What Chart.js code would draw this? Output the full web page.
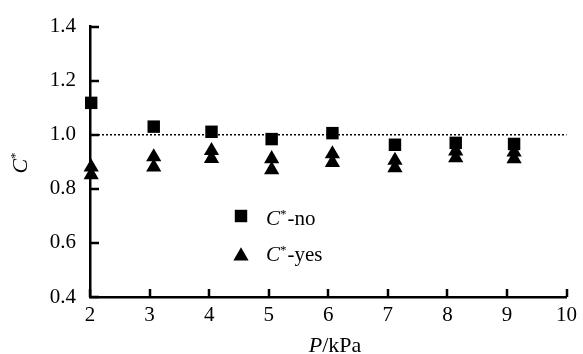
<!DOCTYPE html>
<html>
<head>
<meta charset="utf-8">
<script src="https://cdn.jsdelivr.net/npm/chart.js@4/dist/chart.umd.min.js"></script>
<style>
  html, body { margin: 0; padding: 0; background: #fff; }
  #wrap { width: 583px; height: 354px; }
</style>
</head>
<body>
<div id="wrap"><canvas id="chart" width="583" height="354"></canvas></div>
<script>
// P (kPa) where each pair of measurements sits
const pressure = [2.02, 3.07, 4.04, 5.05, 6.07, 7.12, 8.14, 9.12];
// C* without correction (squares)
const cNo = [1.118, 1.030, 1.011, 0.984, 1.006, 0.963, 0.970, 0.966];
// C* with correction (triangles), two repeats per pressure
const cYesA = [0.880, 0.918, 0.941, 0.911, 0.929, 0.905, 0.940, 0.936];
const cYesB = [0.852, 0.880, 0.912, 0.870, 0.897, 0.878, 0.915, 0.911];
// reference line C* = 1
const refX = [2, 10];
const refY = [1.0, 1.0];

const xTicks = [2, 3, 4, 5, 6, 7, 8, 9, 10];
const yTicks = [0.4, 0.6, 0.8, 1.0, 1.2, 1.4];

const FONT = '"Liberation Serif", "Times New Roman", serif';
const MARK = 8.8;

const toPts = (xs, ys) => xs.map((x, i) => ({ x: x, y: ys[i] }));
const yesPts = toPts(pressure, cYesA).concat(toPts(pressure, cYesB));

// mixed italic / superscript text
function richText(ctx, parts, x, y, align, size) {
  const fontOf = p => (p.italic ? 'italic ' : '') + (p.sup ? Math.round(size * 0.6) : size) + 'px ' + FONT;
  let w = 0;
  parts.forEach(p => { ctx.font = fontOf(p); w += ctx.measureText(p.t).width; });
  let cx = align === 'center' ? x - w / 2 : x;
  ctx.textAlign = 'left';
  ctx.textBaseline = 'alphabetic';
  parts.forEach(p => {
    ctx.font = fontOf(p);
    ctx.fillText(p.t, cx, p.sup ? y - size * 0.35 : y);
    cx += ctx.measureText(p.t).width + (p.sup ? 1 : 0);
  });
}

const decor = {
  id: 'decor',
  afterDraw(chart) {
    const ctx = chart.ctx, xs = chart.scales.x, ys = chart.scales.y;
    const a = chart.chartArea;
    ctx.save();
    ctx.strokeStyle = '#000';
    ctx.fillStyle = '#000';
    ctx.lineWidth = 2.5;
    // inward tick marks
    ctx.beginPath();
    yTicks.forEach(v => {
      const py = Math.round(ys.getPixelForValue(v));
      ctx.moveTo(a.left, py); ctx.lineTo(a.left + 9, py);
    });
    xTicks.forEach(v => {
      const px = Math.round(xs.getPixelForValue(v));
      ctx.moveTo(px, a.bottom); ctx.lineTo(px, a.bottom - 8);
    });
    ctx.stroke();

    // axis titles
    richText(ctx, [{ t: 'P', italic: true }, { t: '/kPa' }], 335, 352, 'center', 22);
    ctx.save();
    ctx.translate(20, 163);
    ctx.rotate(-Math.PI / 2);
    richText(ctx, [{ t: 'C', italic: true }, { t: '*', sup: true }], 0, 7, 'center', 22);
    ctx.restore();

    // legend
    const h = Chart.helpers;
    h.drawPoint(ctx, { pointStyle: 'rect', radius: MARK, borderWidth: 0 }, 241, 216);
    h.drawPoint(ctx, { pointStyle: 'triangle', radius: MARK, borderWidth: 0 }, 241, 256);
    ctx.fillStyle = '#000';
    richText(ctx, [{ t: 'C', italic: true }, { t: '*', sup: true }, { t: '-no' }], 266, 225, 'left', 21);
    richText(ctx, [{ t: 'C', italic: true }, { t: '*', sup: true }, { t: '-yes' }], 266, 261, 'left', 21);
    ctx.restore();
  }
};

new Chart(document.getElementById('chart'), {
  type: 'scatter',
  data: {
    datasets: [
      {
        type: 'line',
        label: 'ref',
        data: toPts(refX, refY),
        borderColor: '#000',
        borderWidth: 1.6,
        borderDash: [2, 2],
        pointRadius: 0,
        fill: false,
        clip: false
      },
      {
        label: 'C*-no',
        data: toPts(pressure, cNo),
        pointStyle: 'rect',
        pointRadius: MARK,
        backgroundColor: '#000',
        borderWidth: 0,
        clip: false
      },
      {
        label: 'C*-yes',
        data: yesPts,
        pointStyle: 'triangle',
        pointRadius: MARK,
        backgroundColor: '#000',
        borderWidth: 0,
        clip: false
      }
    ]
  },
  options: {
    responsive: false,
    animation: false,
    devicePixelRatio: 1,
    layout: { padding: { top: 22, right: 15, left: 0, bottom: 0 } },
    plugins: { legend: { display: false }, tooltip: { enabled: false } },
    scales: {
      x: {
        type: 'linear',
        min: 2, max: 10,
        afterFit(s) { s.height = 57; },
        afterBuildTicks(s) { s.ticks = xTicks.map(v => ({ value: v })); },
        border: { display: true, color: '#000', width: 2.5 },
        grid: { display: false, drawTicks: false },
        ticks: {
          padding: 6,
          color: '#000',
          font: { family: FONT, size: 21 },
          maxRotation: 0,
          callback: v => String(v)
        }
      },
      y: {
        min: 0.4, max: 1.4,
        afterFit(s) { s.width = 90; },
        afterBuildTicks(s) { s.ticks = yTicks.map(v => ({ value: v })); },
        border: { display: true, color: '#000', width: 2.5 },
        grid: { display: false, drawTicks: false },
        ticks: {
          padding: 14,
          color: '#000',
          font: { family: FONT, size: 21 },
          callback: v => Number(v).toFixed(1)
        }
      }
    }
  },
  plugins: [decor]
});
</script>
</body>
</html>
